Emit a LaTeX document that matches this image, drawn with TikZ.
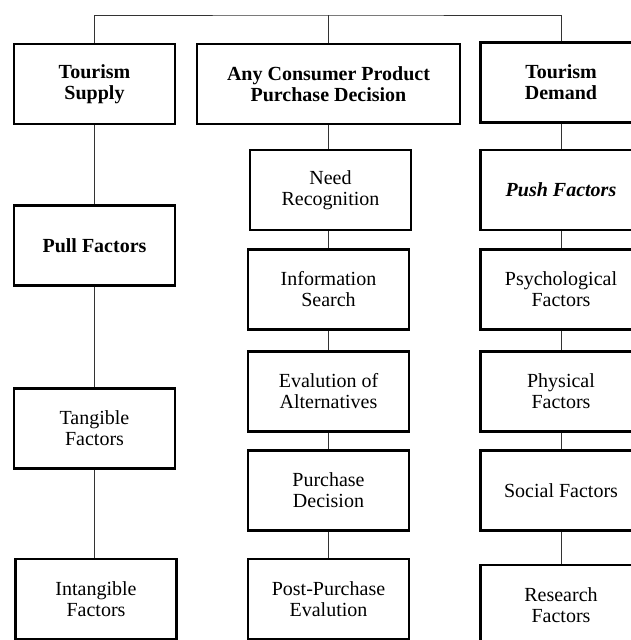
\documentclass[tikz,border=0pt]{standalone}
\usepackage{fontspec}
\setmainfont{Liberation Serif}

\begin{document}
\begin{tikzpicture}[x=1pt,y=-1pt]
		\tikzstyle{every node}+=[inner sep=0pt, font=\fontsize{20}{21}\selectfont, align=center]
		\tikzstyle{factor}=[draw=black, line width=2.4pt, minimum width=161pt, minimum height=80pt]
		\tikzstyle{wide}=[factor, minimum width=263pt]
		\tikzstyle{link}=[draw=black!80, line width=1pt]
		\useasboundingbox (0,0) rectangle (631,640);
		\clip (0,0) rectangle (631,640);
		% heads of the three columns
		\node [factor] (supply) at (94.5,84) {\textbf{Tourism}\\\textbf{Supply}};
		\node [wide] (consumer) at (328.5,84) {\textbf{Any Consumer Product}\\\textbf{Purchase Decision}};
		\node [factor] (demand) at (561,82.5) {\textbf{Tourism}\\\textbf{Demand}};
		% supply side
		\node [factor] (pull) at (94.5,245.5) {\textbf{Pull Factors}};
		\node [factor] (tangible) at (94.5,428.5) {Tangible\\Factors};
		\node [factor] (intangible) at (96,599) {Intangible\\Factors};
		% purchase decision
		\node [factor] (need) at (330.5,190) {Need\\Recognition};
		\node [factor] (info) at (328.5,289.5) {Information\\Search};
		\node [factor] (eval) at (328.5,391.5) {Evalution of\\Alternatives};
		\node [factor] (purchase) at (328.5,490.5) {Purchase\\Decision};
		\node [factor] (post) at (328.5,599) {Post-Purchase\\Evalution};
		% demand side
		\node [factor] (push) at (561,190) {\textbf{\textit{Push Factors}}};
		\node [factor] (psych) at (561,289.5) {Psychological\\Factors};
		\node [factor] (phys) at (561,391.5) {Physical\\Factors};
		\node [factor] (social) at (561,490.5) {Social Factors};
		\node [factor] (research) at (561,605) {Research\\Factors};
		% top bar
		\coordinate (bar) at (328.5,15);
		\draw [link] (supply.north) |- (bar) -| (demand.north);
		\draw [link] (consumer.north) -- (bar);
		% columns
		\draw [link] (supply.south) -- (pull.north);
		\draw [link] (pull.south) -- (tangible.north);
		\draw [link] (tangible.south) -- (tangible.south |- intangible.north);
		\draw [link] (consumer.south) -- (consumer.south |- need.north);
		\draw [link] (need.south -| info) -- (info.north);
		\draw [link] (info.south) -- (eval.north);
		\draw [link] (eval.south) -- (purchase.north);
		\draw [link] (purchase.south) -- (post.north);
		\draw [link] (demand.south) -- (push.north);
		\draw [link] (push.south) -- (psych.north);
		\draw [link] (psych.south) -- (phys.north);
		\draw [link] (phys.south) -- (social.north);
		\draw [link] (social.south) -- (research.north);
	\end{tikzpicture}
\end{document}
